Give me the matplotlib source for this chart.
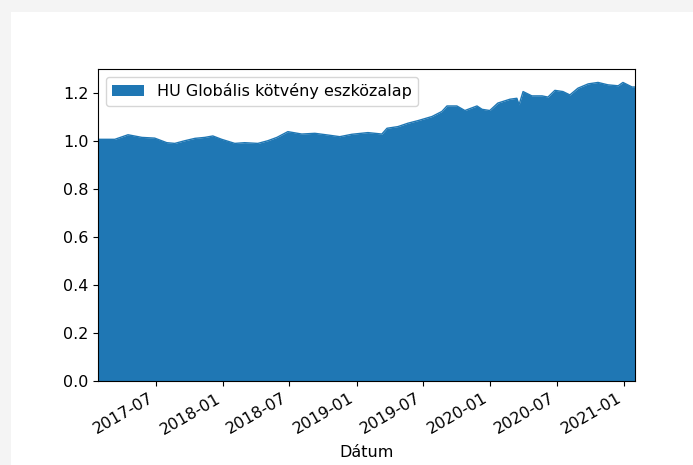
import matplotlib
matplotlib.use("Agg")
import matplotlib.pyplot as plt
import matplotlib.dates as mdates
from matplotlib.patches import Rectangle
import numpy as np

# values
dates = [
    "2017-01-24", "2017-03-11", "2017-04-16", "2017-05-24", "2017-06-28",
    "2017-07-31", "2017-08-22", "2017-09-18", "2017-10-16", "2017-11-12",
    "2017-12-04", "2017-12-28", "2018-02-02", "2018-03-01", "2018-04-06",
    "2018-05-03", "2018-05-28", "2018-06-27", "2018-08-04", "2018-09-09",
    "2018-10-14", "2018-11-16", "2018-12-19", "2019-02-01", "2019-03-11",
    "2019-03-25", "2019-04-24", "2019-05-21", "2019-06-18", "2019-07-26",
    "2019-08-22", "2019-09-05", "2019-10-02", "2019-10-24", "2019-11-26",
    "2019-12-10", "2019-12-31", "2020-01-22", "2020-02-24", "2020-03-14",
    "2020-03-20", "2020-03-31", "2020-04-24", "2020-05-22", "2020-06-07",
    "2020-06-26", "2020-07-18", "2020-08-06", "2020-08-28", "2020-09-25",
    "2020-10-22", "2020-11-18", "2020-12-16", "2020-12-29", "2021-01-23",
    "2021-01-31",
]
values = [
    1.007, 1.007, 1.026, 1.015, 1.012,
    0.993, 0.990, 1.001, 1.011, 1.015,
    1.021, 1.007, 0.990, 0.993, 0.990,
    1.001, 1.015, 1.039, 1.029, 1.032,
    1.025, 1.018, 1.028, 1.035, 1.029,
    1.053, 1.060, 1.074, 1.085, 1.102,
    1.123, 1.146, 1.146, 1.127, 1.146,
    1.132, 1.127, 1.158, 1.174, 1.178,
    1.151, 1.206, 1.188, 1.188, 1.183,
    1.211, 1.206, 1.192, 1.220, 1.238,
    1.244, 1.234, 1.230, 1.244, 1.225,
    1.225,
]
series_name = "HU Globális kötvény eszközalap"

x = np.array(dates, dtype="datetime64[D]")
y = np.array(values)

plt.rcParams["font.size"] = 11.5

fig = plt.figure(figsize=(6.93, 4.65), dpi=100, facecolor="#f4f4f4")
fig.patches.append(Rectangle((11 / 693, 0), 1, 1 - 12 / 465, transform=fig.transFigure,
                             facecolor="white", edgecolor="none", zorder=-1))

ax = fig.add_axes([98 / 693, 1 - 381 / 465, 537 / 693, 312 / 465])
ax.fill_between(x, 0, y, color="#1f77b4", linewidth=0, label=series_name)
ax.plot(x, y, color="#1f77b4", linewidth=1)

ax.set_xlim(x[0], x[-1])
ax.set_ylim(0, 1.30)
ax.set_yticks(np.arange(0, 1.21, 0.2))
ax.xaxis.set_major_locator(mdates.MonthLocator(bymonth=[1, 7]))
ax.xaxis.set_major_formatter(mdates.DateFormatter("%Y-%m"))
for lbl in ax.get_xticklabels():
    lbl.set_rotation(30)
    lbl.set_ha("right")
ax.set_xlabel("Dátum", labelpad=6)
ax.legend(loc="upper left")

fig.savefig("out.png", dpi=100, facecolor=fig.get_facecolor())
